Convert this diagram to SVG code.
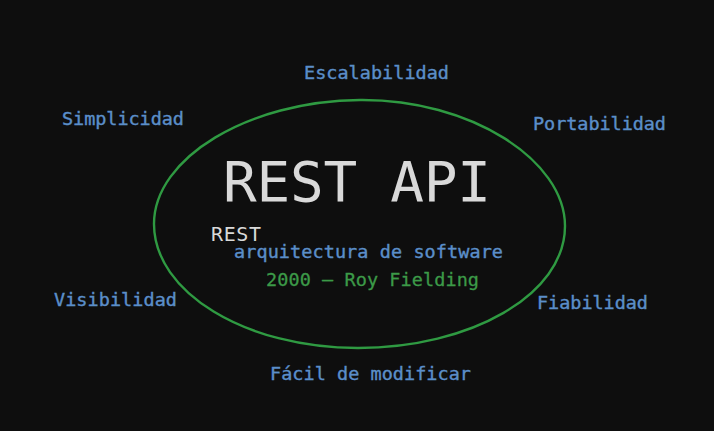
<svg xmlns="http://www.w3.org/2000/svg" width="714" height="431" viewBox="0 0 714 431">
<style>
text{font-family:"DejaVu Sans Mono","Liberation Mono",monospace;}
.q{fill:#5b8ec9;stroke:#5b8ec9;stroke-width:0.4;font-size:18.5px;}
.t{fill:#d9d9d9;}
.g{fill:#3c9a48;stroke:#3c9a48;stroke-width:0.3;font-size:18.5px;}
.e{fill:none;stroke:#2f9a42;stroke-width:2.4;}
</style>
<rect width="714" height="431" fill="#0e0e0e"/>
<g id="connectors"></g>
<g id="ellipse"><path class="e" d="M360,100 C470,99 565,160 565,226 C565,295 470,348 358,348 C245,348 154,292 154,224 C154,158 248,101 360,100 Z"/></g>
<g id="title"><text class="t" x="223" y="201" font-size="56" textLength="268">REST API</text></g>
<g id="rest"><text class="t" x="211" y="241" font-size="20" textLength="50">REST</text></g>
<g id="arq"><text class="q" x="234" y="258" textLength="269">arquitectura de software</text></g>
<g id="fielding"><text class="g" x="266" y="286" textLength="213">2000 – Roy Fielding</text></g>
<g id="escalabilidad"><text class="q" x="304" y="79" textLength="145">Escalabilidad</text></g>
<g id="simplicidad"><text class="q" x="62" y="125" textLength="122">Simplicidad</text></g>
<g id="portabilidad"><text class="q" x="533" y="130" textLength="133">Portabilidad</text></g>
<g id="visibilidad"><text class="q" x="54" y="306" textLength="123">Visibilidad</text></g>
<g id="fiabilidad"><text class="q" x="537" y="309" textLength="111">Fiabilidad</text></g>
<g id="facil"><text class="q" x="270" y="380" textLength="201">Fácil de modificar</text></g>
</svg>
